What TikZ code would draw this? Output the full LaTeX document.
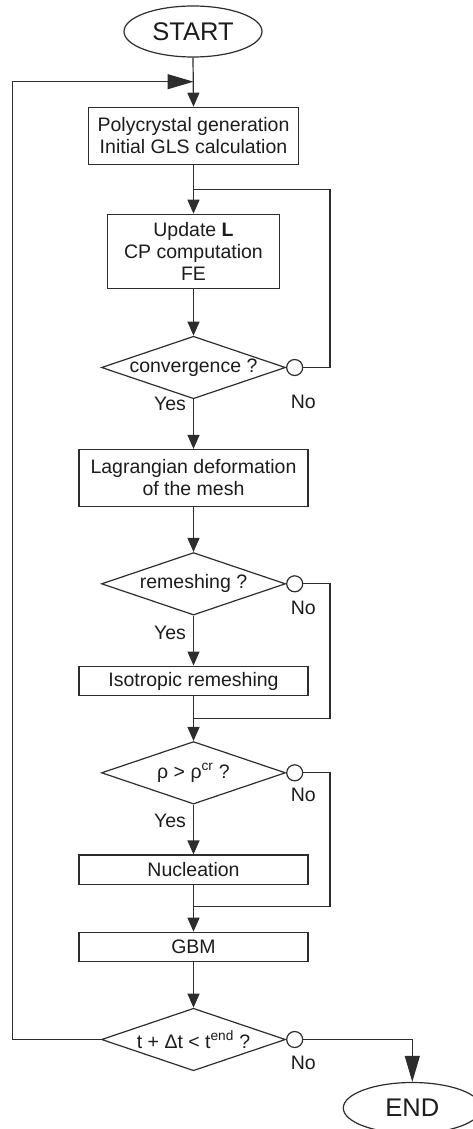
\documentclass[tikz,border=0pt]{standalone}
\usepackage{fontspec}
\setmainfont{Liberation Sans}
\usetikzlibrary{
    arrows.meta,
    calc,
    positioning,
    shapes.geometric
}
\definecolor{ink}{RGB}{28,28,30}
\definecolor{wire}{RGB}{45,45,45}
\newcommand{\flowfont}{\fontsize{19.5}{22}\selectfont}
\tikzset{
    line join=miter,
    process/.style={
        rectangle,
        draw=wire,
        line width=1.2pt,
        fill=white,
        text=ink,
        align=center,
        inner sep=0pt,
        font=\flowfont
    },
    decision/.style={
        diamond,
        draw=wire,
        line width=1.2pt,
        fill=white,
        aspect=2.92,
        inner sep=0pt,
        minimum width=184pt,
        minimum height=62.5pt,
        text=ink,
        font=\flowfont
    },
    terminal/.style={
        ellipse,
        draw=wire,
        line width=1.2pt,
        fill=white,
        inner sep=0pt,
        minimum width=138pt,
        minimum height=51pt,
        text=ink,
        font=\fontsize{25.5}{28}\selectfont
    },
    port/.style={
        circle,
        draw=wire,
        line width=1.2pt,
        fill=white,
        minimum size=16pt,
        inner sep=0pt
    },
    flowline/.style={
        draw=wire,
        line width=1.2pt
    },
    flowarrow/.style={
        flowline,
        -{Triangle[length=14pt, width=12pt]}
    },
    bigarrow/.style={
        flowline,
        -{Triangle[length=26pt, width=15pt]}
    },
    annot/.style={
        text=ink,
        font=\flowfont,
        inner sep=0pt,
        anchor=base
    }
}

\begin{document}
\begin{tikzpicture}[x=1pt, y=-1pt]

\useasboundingbox (0,0) rectangle (472,1129);

% Main column
\node[terminal] (start) at (193,31.5) {START};
\node[process, minimum width=210.7pt, minimum height=57pt] (poly) at (193.5,135.8) {Polycrystal generation\\Initial GLS calculation};
\node[process, minimum width=172pt, minimum height=74pt] (update) at (193.5,251.3) {Update \textbf{L}\\CP computation\\FE};
\node[decision] (conv) at (193.5,367.5) {convergence ?};
\node[process, minimum width=229pt, minimum height=57pt] (lagr) at (193.5,478) {Lagrangian deformation\\of the mesh};
\node[decision] (remesh) at (193.5,583.8) {remeshing ?};
\node[process, minimum width=229pt, minimum height=29.7pt] (iso) at (193.5,681) {Isotropic remeshing};
\node[decision] (rho) at (193.5,772.8) {ρ > ρ\textsuperscript{cr} ?};
\node[process, minimum width=229pt, minimum height=29.4pt] (nucl) at (193.5,869.7) {Nucleation};
\node[process, minimum width=229pt, minimum height=29.4pt] (gbm) at (193.5,947) {GBM};
\node[decision] (time) at (193.5,1039.5) {t + Δt < t\textsuperscript{end} ?};
\node[terminal] (end) at (412.3,1108) {END};

% "No" exits
\node[port, anchor=west] (pconv) at (conv.east) {};
\node[port, anchor=west] (premesh) at (remesh.east) {};
\node[port, anchor=west] (prho) at (rho.east) {};
\node[port, anchor=west] (ptime) at (time.east) {};

% Junctions and corners
\coordinate (back) at (193.5,81.7);
\coordinate (backcorner) at (12.7,81.7);
\coordinate (jconv) at (193.5,189.3);
\coordinate (kconv) at (330,189.3);
\coordinate (jremesh) at (193.5,718.3);
\coordinate (kremesh) at (330,718.3);
\coordinate (jrho) at (193.5,906.7);
\coordinate (krho) at (330,906.7);

% Straight flow
\draw[flowarrow] (start.south) -- (poly.north);
\draw[flowarrow] (poly.south) -- (update.north);
\draw[flowarrow] (update.south) -- (conv.north);
\draw[flowarrow] (conv.south) -- (lagr.north);
\draw[flowarrow] (lagr.south) -- (remesh.north);
\draw[flowarrow] (remesh.south) -- (iso.north);
\draw[flowarrow] (iso.south) -- (rho.north);
\draw[flowarrow] (rho.south) -- (nucl.north);
\draw[flowarrow] (nucl.south) -- (gbm.north);
\draw[flowarrow] (gbm.south) -- (time.north);

% Loops back
\draw[flowline] (pconv.east) -| (kconv) -- (jconv);
\draw[flowline] (premesh.east) -| (kremesh) -- (jremesh);
\draw[flowline] (prho.east) -| (krho) -- (jrho);
\draw[bigarrow] (time.west) -| (backcorner) -- (back);
\draw[bigarrow] (ptime.east) -| (end.north);

% Labels
\node[annot] (yconv) at (170,410) {Yes};
\node[annot] (nconv) at (303.3,408.3) {No};
\node[annot] (yremesh) at (170,639.3) {Yes};
\node[annot] (nremesh) at (303.3,614) {No};
\node[annot] (yrho) at (170,827.7) {Yes};
\node[annot] (nrho) at (303.3,801.7) {No};
\node[annot] (ntime) at (303.3,1069.3) {No};

\end{tikzpicture}
\end{document}
